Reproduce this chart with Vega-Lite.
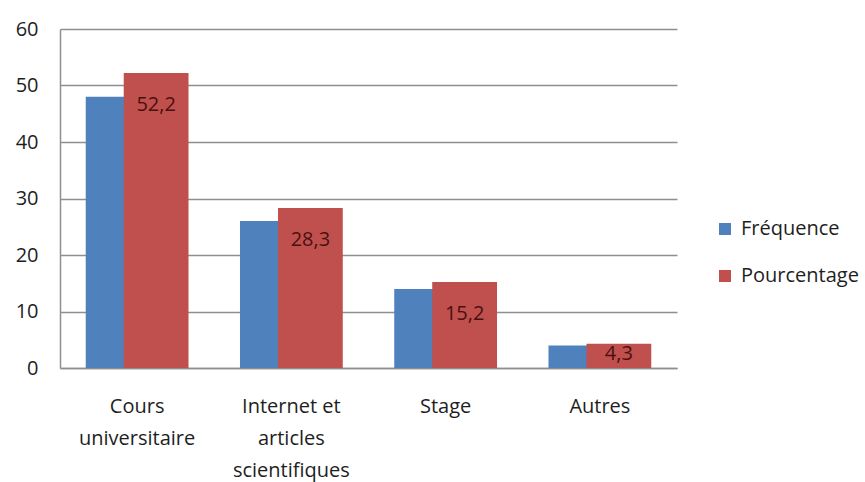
{
  "$schema": "https://vega.github.io/schema/vega-lite/v6.json",
  "width": 617,
  "height": 339,
  "autosize": "none",
  "padding": {"left": 60, "top": 29, "right": 188, "bottom": 114},
  "background": "white",
  "config": {
    "font": "Open Sans",
    "view": {"stroke": null},
    "locale": {
      "number": {"decimal": ",", "thousands": " ", "grouping": [3], "currency": ["", " €"]}
    }
  },
  "data": {
    "values": [
      {"categorie": "Cours universitaire", "serie": "Fréquence", "valeur": 48},
      {"categorie": "Internet et articles scientifiques", "serie": "Fréquence", "valeur": 26},
      {"categorie": "Stage", "serie": "Fréquence", "valeur": 14},
      {"categorie": "Autres", "serie": "Fréquence", "valeur": 4},
      {"categorie": "Cours universitaire", "serie": "Pourcentage", "valeur": 52.2},
      {"categorie": "Internet et articles scientifiques", "serie": "Pourcentage", "valeur": 28.3},
      {"categorie": "Stage", "serie": "Pourcentage", "valeur": 15.2},
      {"categorie": "Autres", "serie": "Pourcentage", "valeur": 4.3}
    ]
  },
  "encoding": {
    "x": {
      "field": "categorie",
      "type": "nominal",
      "sort": null,
      "scale": {"paddingInner": 0, "paddingOuter": 0},
      "axis": {
        "title": null,
        "labelAngle": 0,
        "labelFontSize": 20,
        "labelColor": "#1e1e1e",
        "labelLineHeight": 32,
        "labelPadding": 28,
        "labelBaseline": "top",
        "ticks": false,
        "domainColor": "#8f8f8f",
        "domainWidth": 1.5,
        "labelExpr": "datum.value == 'Cours universitaire' ? ['Cours', 'universitaire'] : datum.value == 'Internet et articles scientifiques' ? ['Internet et', 'articles', 'scientifiques'] : datum.value"
      }
    },
    "y": {
      "field": "valeur",
      "type": "quantitative",
      "stack": null,
      "scale": {"domain": [0, 60], "nice": false},
      "axis": {
        "title": null,
        "values": [0, 10, 20, 30, 40, 50, 60],
        "labelFontSize": 20,
        "labelColor": "#1e1e1e",
        "labelPadding": 22,
        "ticks": false,
        "domainColor": "#8f8f8f",
        "domainWidth": 1.5,
        "gridColor": "#8f8f8f",
        "gridWidth": 1.5
      }
    }
  },
  "layer": [
    {
      "mark": {
        "type": "bar",
        "width": {"band": 0.42},
        "xOffset": {"expr": "datum.serie == 'Fréquence' ? -19 : 19"}
      },
      "encoding": {
        "color": {
          "field": "serie",
          "type": "nominal",
          "scale": {"domain": ["Fréquence", "Pourcentage"], "range": ["#4F81BD", "#C0504D"]},
          "legend": {
            "title": null,
            "orient": "none",
            "legendX": 655,
            "legendY": 190,
            "symbolType": "square",
            "symbolSize": 144,
            "symbolStrokeWidth": 0,
            "labelFontSize": 20,
            "labelColor": "#1e1e1e",
            "labelOffset": 6,
            "rowPadding": 27
          }
        }
      }
    },
    {
      "transform": [{"filter": "datum.serie == 'Pourcentage'"}],
      "mark": {
        "type": "text",
        "fontSize": 20,
        "color": "#4a1010",
        "baseline": "middle",
        "xOffset": 19,
        "dy": {"expr": "datum.valeur > 10 ? 32 : 10"}
      },
      "encoding": {
        "text": {"field": "valeur", "type": "quantitative", "format": ".1f"}
      }
    }
  ]
}
